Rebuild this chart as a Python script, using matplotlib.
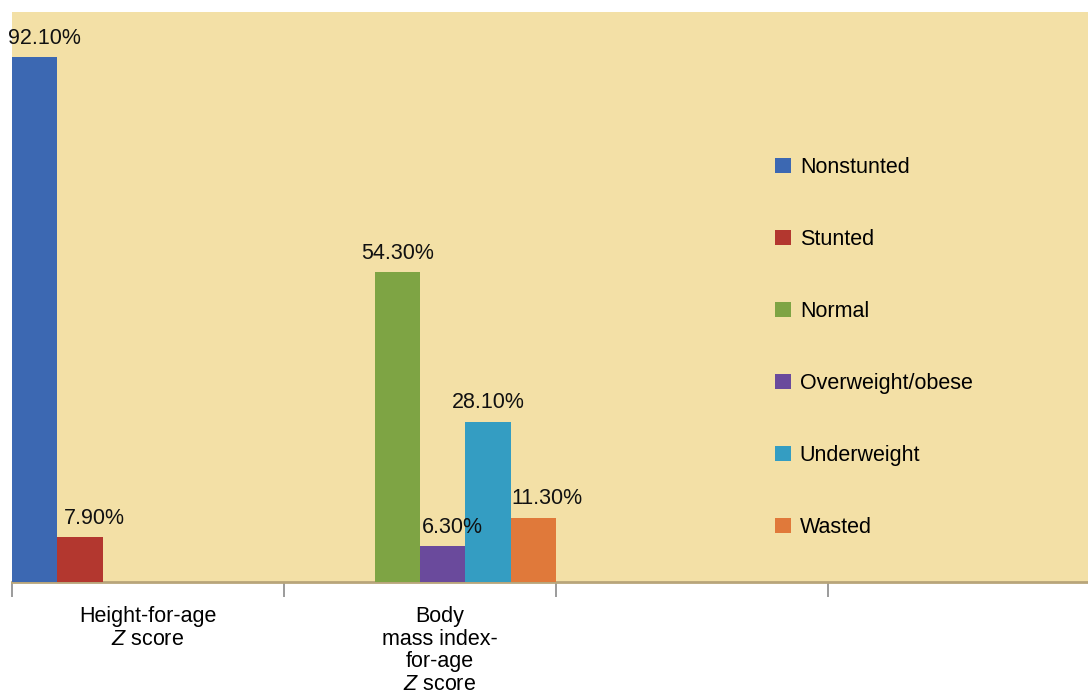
import matplotlib
matplotlib.use("Agg")
import matplotlib.pyplot as plt
import numpy as np
from matplotlib.transforms import ScaledTranslation

plt.rcParams['font.family'] = ['Liberation Sans', 'DejaVu Sans']
plt.rcParams['mathtext.fontset'] = 'custom'
plt.rcParams['mathtext.rm'] = 'Liberation Sans'
plt.rcParams['mathtext.it'] = 'Liberation Sans:italic'

# ---- data ----
categories = ["Height-for-age\n$\\mathit{Z}$ score",
              "Body\nmass index-\nfor-age\n$\\mathit{Z}$ score",
              "", ""]
series = ["Nonstunted", "Stunted", "Normal", "Overweight/obese", "Underweight", "Wasted"]
nonstunted = [92.1, None, None, None]
stunted = [7.9, None, None, None]
normal = [None, 54.3, None, None]
overweight = [None, 6.3, None, None]
underweight = [None, 28.1, None, None]
wasted = [None, 11.3, None, None]
values = [nonstunted, stunted, normal, overweight, underweight, wasted]

colors = ["#3C68B2", "#B3372F", "#7EA444", "#6A4A9C", "#349DC2", "#E0793A"]
label_dx = [10, 14, 0, 10, 0, 14]  # pixel nudges of value labels

FS = 15.5
W, H = 1088, 698
fig = plt.figure(figsize=(W / 100, H / 100), dpi=100)
ax = fig.add_axes([12 / W, (H - 582) / H, (W - 12) / W, (582 - 12) / H])
ax.set_facecolor("#F3E0A6")

n = len(series)
bw = 1.0 / n
x = np.arange(len(categories))
for i, (name, vals, c) in enumerate(zip(series, values, colors)):
    xs = [xi + (i - (n - 1) / 2) * bw for xi, v in zip(x, vals) if v is not None]
    vs = [v for v in vals if v is not None]
    bars = ax.bar(xs, vs, width=bw, color=c, label=name, zorder=3)
    for b, v in zip(bars, vs):
        ax.annotate(f"{v:.2f}%", (b.get_x() + b.get_width() / 2, v),
                    xytext=(label_dx[i] * 0.72, 6), textcoords="offset points",
                    ha="center", va="bottom", fontsize=FS, color="#111111", zorder=5)

ax.set_xlim(-0.5, (W - 12) / 272 - 0.5)
ax.set_ylim(0, 100)
ax.set_yticks([])
for s in ["top", "right", "left"]:
    ax.spines[s].set_visible(False)
ax.spines["bottom"].set_color("#B8A57A")
ax.spines["bottom"].set_linewidth(2.0)

ax.set_xticks(x)
ax.set_xticklabels(categories, fontsize=FS, linespacing=1.12, va="top")
ax.tick_params(axis="x", which="major", length=0, pad=17)
ax.set_xticks(np.arange(len(categories)) - 0.5, minor=True)
ax.tick_params(axis="x", which="minor", length=11, width=1.2, color="#8A8A8A")
labs = ax.get_xticklabels()
labs[1].set_transform(labs[1].get_transform() + ScaledTranslation(20 / 100, 0, fig.dpi_scale_trans))

leg = ax.legend(loc="upper left", bbox_to_anchor=(775 / W, 1 - 157 / H),
                bbox_transform=fig.transFigure, frameon=False, fontsize=FS,
                handlelength=0.75, handleheight=0.75, handletextpad=0.4,
                labelspacing=2.37, borderpad=0, borderaxespad=0)

fig.savefig("out.png", dpi=100, facecolor="white")
